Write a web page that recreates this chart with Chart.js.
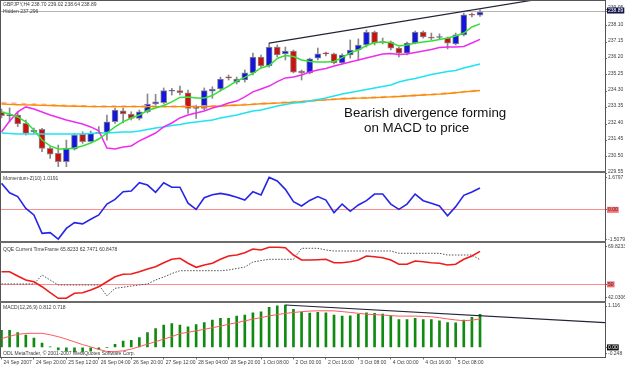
<!DOCTYPE html>
<html>
<head>
<meta charset="utf-8">
<script src="https://cdn.jsdelivr.net/npm/chart.js@4.4.1/dist/chart.umd.min.js"></script>
<style>
html, body { margin: 0; padding: 0; background: #fff; }
#wrap { position: relative; width: 625px; height: 367px; overflow: hidden; background: #fff; font-family: "Liberation Sans", Arial, sans-serif; }
canvas { position: absolute; left: 0; }
.frame { position: absolute; left: 0; top: 0; width: 604px; height: 356px; border: 1px solid #555; }
.sep { position: absolute; left: 0; width: 606px; height: 2px; background: #6b6b6b; }
.ttl { position: absolute; left: 3px; font-size: 5px; line-height: 6px; color: #3a3a3a; white-space: nowrap; }
.note { position: absolute; font-size: 13.33px; line-height: 15px; color: #111; white-space: nowrap; }
</style>
</head>
<body>
<div id="wrap">
  <canvas id="cMain" width="625" height="175" style="top:0"></canvas>
  <canvas id="cMom" width="625" height="72" style="top:172px"></canvas>
  <canvas id="cQqe" width="625" height="61" style="top:242px"></canvas>
  <canvas id="cMacd" width="625" height="66" style="top:301px"></canvas>

  <div class="frame"></div>
  <div class="sep" style="top:171px"></div>
  <div class="sep" style="top:241px"></div>
  <div class="sep" style="top:301px"></div>

  <div class="ttl" style="top:1px">GBPJPY,H4 238.70 239.02 238.64 238.89</div>
  <div class="ttl" style="top:8px">Hidden 237.296</div>
  <div class="ttl" style="top:175px">Momentum-Z(10) 1.0191</div>
  <div class="ttl" style="top:246px">QQE Current TimeFrame 65.8233 62.7471 60.8478</div>
  <div class="ttl" style="top:304px">MACD(12,26,9) 0.812 0.718</div>
  <div class="ttl" style="top:350px">ODL MetaTrader, © 2001-2007 MetaQuotes Software Corp.</div>

  <div class="note" style="left:344px; top:104.5px">Bearish divergence forming</div>
  <div class="note" style="left:364px; top:119.5px">on MACD to price</div>
</div>

<script>
// ---- time axis (H4 bars, label every 4 bars) ----
const labelBars = [0, 4, 8, 12, 16, 20, 24, 28, 32, 36, 40, 44, 48, 52, 56];
const timeLabels = ["24 Sep 2007", "24 Sep 20:00", "25 Sep 12:00", "26 Sep 04:00", "26 Sep 20:00",
  "27 Sep 12:00", "28 Sep 04:00", "28 Sep 20:00", "1 Oct 08:00", "2 Oct 00:00",
  "2 Oct 16:00", "3 Oct 08:00", "4 Oct 00:00", "4 Oct 16:00", "5 Oct 08:00"];

// ---- GBPJPY H4 candles ----
const openP = [233.11, 232.88, 232.92, 232.44, 231.94, 232.09, 230.99, 230.70, 230.22, 230.94,
  231.82, 231.38, 231.94, 231.92, 232.53, 233.17, 232.98, 232.73, 233.11, 233.56,
  233.64, 234.30, 234.33, 234.21, 233.31, 233.31, 234.31, 234.43, 235.10, 234.83,
  234.95, 235.36, 236.28, 235.76, 236.86, 236.46, 236.63, 235.47, 235.36, 236.22,
  236.51, 236.46, 235.94, 236.40, 236.69, 236.98, 237.73, 237.17, 237.15, 236.80,
  236.51, 237.09, 237.73, 237.44, 237.41, 237.38, 237.04, 237.56, 238.72, 238.70];
const highP = [233.27, 233.33, 233.11, 232.63, 232.17, 232.15, 231.09, 231.18, 231.47, 231.86,
  231.95, 231.99, 232.25, 232.92, 233.33, 233.33, 233.11, 233.21, 234.14, 234.12,
  234.49, 234.47, 234.60, 234.37, 233.50, 234.49, 234.56, 235.12, 235.24, 235.12,
  235.53, 236.51, 236.40, 237.09, 236.98, 236.86, 236.69, 235.53, 236.22, 236.80,
  236.57, 236.51, 236.46, 237.27, 237.33, 237.85, 237.79, 237.38, 237.21, 236.86,
  237.15, 237.79, 237.79, 237.67, 237.62, 237.44, 237.67, 238.83, 238.83, 239.02];
const lowP = [232.75, 232.52, 232.25, 231.76, 231.86, 230.80, 230.41, 229.93, 229.93, 230.89,
  231.28, 231.36, 231.86, 231.47, 232.44, 232.46, 232.63, 232.63, 233.04, 233.37,
  233.56, 234.08, 234.08, 233.02, 232.73, 233.21, 233.89, 234.31, 234.95, 234.72,
  234.83, 235.24, 235.65, 235.70, 236.28, 236.11, 235.36, 234.95, 235.30, 236.11,
  236.34, 235.88, 235.88, 236.22, 236.11, 236.86, 236.98, 237.04, 236.69, 236.28,
  236.40, 237.04, 237.38, 237.27, 237.33, 236.75, 236.98, 237.50, 238.60, 238.64];
const closeP = [232.88, 232.94, 232.40, 231.86, 232.05, 230.99, 230.66, 230.22, 230.99, 231.76,
  231.38, 231.86, 231.88, 232.53, 233.21, 232.98, 232.73, 233.11, 233.56, 233.69,
  234.33, 234.33, 234.21, 233.31, 233.35, 234.33, 234.43, 235.01, 235.07, 235.01,
  235.36, 236.28, 235.76, 236.86, 236.40, 236.63, 235.41, 235.36, 236.17, 236.46,
  236.46, 235.94, 236.40, 236.69, 236.98, 237.73, 237.09, 237.12, 236.80, 236.51,
  237.09, 237.73, 237.44, 237.38, 237.44, 237.09, 237.56, 238.72, 238.70, 238.89];

// ---- moving averages on price ----
const maGreen = [233.10, 232.98, 232.81, 232.52, 232.05, 231.47, 231.13, 230.95, 230.95, 231.01,
  231.13, 231.30, 231.53, 231.88, 232.23, 232.52, 232.75, 232.92, 233.18, 233.33,
  233.47, 233.68, 233.94, 233.97, 233.91, 233.91, 234.05, 234.34, 234.60, 234.89,
  235.10, 235.33, 235.65, 235.79, 236.20, 236.37, 236.31, 236.11, 236.02, 235.99,
  235.99, 236.02, 236.25, 236.52, 236.69, 236.95, 237.12, 237.15, 237.12, 236.92,
  236.98, 237.09, 237.15, 237.21, 237.30, 237.38, 237.50, 237.67, 238.02, 238.20];
const maMagenta = [231.94, 232.57, 233.10, 233.39, 233.27, 233.10, 232.92, 232.78, 232.63, 232.52,
  232.40, 232.23, 232.00, 231.01, 230.95, 231.07, 231.13, 231.42, 231.65, 231.88,
  232.23, 232.46, 232.75, 232.92, 233.04, 233.15, 233.33, 233.44, 233.62, 233.73,
  233.97, 234.26, 234.43, 234.60, 234.86, 235.07, 235.12, 235.24, 235.41, 235.53,
  235.62, 235.76, 235.88, 235.99, 236.11, 236.23, 236.34, 236.46, 236.49, 236.43,
  236.46, 236.54, 236.63, 236.72, 236.83, 236.86, 236.86, 236.89, 237.09, 237.30];
const maCyan = [231.88, 231.85, 231.82, 231.82, 231.82, 231.82, 231.82, 231.82, 231.82, 231.82,
  231.82, 231.85, 231.88, 231.88, 231.91, 231.94, 231.94, 232.00, 232.08, 232.17,
  232.23, 232.31, 232.37, 232.46, 232.52, 232.58, 232.63, 232.75, 232.84, 232.92,
  233.04, 233.15, 233.21, 233.33, 233.44, 233.53, 233.62, 233.65, 233.73, 233.82,
  233.91, 234.02, 234.14, 234.23, 234.31, 234.40, 234.49, 234.57, 234.66, 234.83,
  234.95, 235.04, 235.15, 235.27, 235.36, 235.44, 235.50, 235.65, 235.76, 235.88];
const maOrange = [233.56, 233.54, 233.52, 233.51, 233.50, 233.48, 233.47, 233.46, 233.44, 233.43,
  233.43, 233.41, 233.41, 233.41, 233.41, 233.41, 233.41, 233.41, 233.41, 233.41,
  233.41, 233.41, 233.41, 233.41, 233.41, 233.41, 233.43, 233.44, 233.47, 233.49,
  233.51, 233.54, 233.57, 233.59, 233.61, 233.64, 233.66, 233.69, 233.73, 233.77,
  233.80, 233.83, 233.86, 233.88, 233.90, 233.91, 233.93, 233.95, 233.97, 233.99,
  234.02, 234.05, 234.08, 234.10, 234.13, 234.17, 234.21, 234.26, 234.30, 234.34];
const maSalmon = [233.62, 233.60, 233.58, 233.56, 233.54, 233.52, 233.50, 233.48, 233.46, 233.45,
  233.44, 233.43, 233.42, 233.42, 233.42, 233.42, 233.42, 233.42, 233.42, 233.42,
  233.42, 233.42, 233.42, 233.42, 233.42, 233.42, 233.44, 233.45, 233.48, 233.50,
  233.52, 233.55, 233.58, 233.60, 233.62, 233.65, 233.67, 233.70, 233.74, 233.78,
  233.81, 233.84, 233.87, 233.89, 233.91, 233.92, 233.94, 233.96, 233.98, 234.00,
  234.03, 234.06, 234.09, 234.11, 234.14, 234.18, 234.22, 234.27, 234.31, 234.35];

// price trend line (bar, price) and axis ticks
const priceTrendBars = [33, 74.41];
const priceTrendVals = [237.09, 240.26];
const priceTicks = [229.55, 230.50, 231.45, 232.40, 233.35, 234.30, 235.25, 236.20, 237.15, 238.10, 239.05];
const bidPrice = 238.89;

// ---- Momentum-Z(10) ----
const momentum = [1.24, 0.80, 0.62, 0.07, -0.24, -1.10, -1.07, -1.37, -0.87, -0.60,
  -0.66, -0.44, -0.24, 0.27, 0.49, 0.85, 0.88, 1.27, 1.16, 0.82,
  1.27, 1.06, 1.06, 0.31, 0.02, 0.57, 0.71, 0.77, 0.70, 0.59,
  0.46, 0.85, 0.70, 1.52, 1.35, 0.96, 0.38, 0.18, 0.44, 0.62,
  0.46, -0.13, 0.27, -0.07, 0.23, 0.43, 0.74, 0.74, 0.27, 0.02,
  0.27, 0.74, 0.43, 0.31, 0.18, -0.28, 0.15, 0.68, 0.84, 1.02];
const momTickVals = [1.525, 0, -1.381];
const momTickText = ["1.6797", "0.00", "-1.5079"];

// ---- QQE ----
const qqeFast = [56.07, 56.07, 54.01, 52.09, 51.28, 48.88, 46.01, 43.33, 43.33, 45.72,
  46.01, 47.30, 48.88, 51.28, 53.67, 54.82, 54.97, 56.07, 57.37, 58.47,
  60.38, 62.01, 62.49, 60.10, 58.18, 59.28, 60.10, 62.01, 63.59, 64.07,
  65.17, 66.95, 66.47, 67.76, 67.76, 67.57, 64.07, 61.67, 61.67, 61.82,
  62.01, 60.38, 60.38, 60.86, 61.67, 63.59, 63.26, 62.78, 61.67, 59.62,
  59.62, 61.20, 60.86, 60.38, 60.10, 59.28, 59.62, 62.01, 63.59, 65.82];
const qqeSlow = [50.2, 50.2, 50.2, 50.2, 50.2, 54.49, 52.1, 49.7, 49.7, 49.7,
  49.7, 49.7, 49.7, 44.43, 48.11, 48.6, 49.2, 49.7, 50.2, 52.09,
  53.53, 55.2, 56.55, 56.55, 56.55, 56.55, 56.55, 56.55, 56.88, 57.6,
  58.3, 60.72, 61.4, 62.01, 62.01, 62.01, 62.01, 67.28, 67.28, 67.28,
  66.47, 65.99, 65.99, 65.99, 65.99, 65.99, 65.99, 65.99, 65.99, 64.89,
  64.89, 64.89, 64.89, 64.89, 64.89, 64.07, 64.07, 64.07, 64.07, 61.8];
const qqeTickVals = [68.05, 50, 43.80];
const qqeTickText = ["69.8233", "50", "42.0306"];

// ---- MACD(12,26,9) ----
const macdHist = [0.42, 0.42, 0.365, 0.30, 0.23, 0.107, 0.01, -0.06, -0.09, -0.11,
  -0.11, -0.09, -0.05, 0.00, 0.074, 0.156, 0.174, 0.24, 0.365, 0.464,
  0.546, 0.588, 0.546, 0.503, 0.563, 0.613, 0.67, 0.712, 0.712, 0.769,
  0.794, 0.851, 0.876, 0.985, 1.024, 1.042, 0.935, 0.868, 0.843, 0.861,
  0.851, 0.794, 0.769, 0.776, 0.811, 0.851, 0.836, 0.818, 0.776, 0.687,
  0.687, 0.712, 0.687, 0.687, 0.652, 0.613, 0.603, 0.67, 0.737, 0.812];
const macdSignal = [0.216, 0.273, 0.322, 0.342, 0.347, 0.347, 0.31, 0.263, 0.203, 0.136,
  0.069, 0.012, -0.05, -0.10, -0.104, -0.084, -0.042, 0.02, 0.08, 0.141,
  0.203, 0.265, 0.34, 0.372, 0.407, 0.444, 0.484, 0.523, 0.568, 0.608,
  0.652, 0.694, 0.732, 0.774, 0.806, 0.836, 0.858, 0.878, 0.893, 0.90,
  0.90, 0.898, 0.88, 0.86, 0.838, 0.818, 0.806, 0.794, 0.781, 0.769,
  0.769, 0.769, 0.762, 0.754, 0.729, 0.70, 0.675, 0.657, 0.67, 0.70];
const macdTrendBars = [35, 74.41];
const macdTrendVals = [1.042, 0.607];
const macdTickVals = [1.017, 0, -0.141];
const macdTickText = ["1.116", "0.00", "-0.248"];

// ============================================================
const X_MIN = -0.06, X_MAX = 74.41;
const FONT = { family: '"Liberation Sans", Arial, sans-serif', size: 5 };
const AXIS_TEXT = "#404040";
const CLEAR = "rgba(0,0,0,0)";

const pts = arr => arr.map((v, i) => ({ x: i, y: v }));
const pair = (xs, ys) => xs.map((x, i) => ({ x, y: ys[i] }));

function lineSet(data, color, width, order, extra) {
    return Object.assign({
        type: "line", data, borderColor: color, borderWidth: width,
        pointRadius: 0, tension: 0, fill: false, order
    }, extra || {});
}

// right-hand price axis in MT4 style
function rightAxis(min, max, tickVals, tickText, style) {
    return {
        position: "right", min, max,
        afterBuildTicks: s => { s.ticks = tickVals.map(v => ({ value: v })); },
        afterFit: s => { s.width = 20; s.paddingTop = 0; s.paddingBottom = 0; },
        border: { display: false },
        grid: {
            drawOnChartArea: true, lineWidth: 1, tickLength: 2, tickColor: "#777",
            color: ctx => (ctx.tick && style.levels[ctx.tick.value]) || CLEAR
        },
        ticks: {
            autoSkip: false, padding: 1, font: FONT, labelOffset: style.labelOffset || 0,
            callback: (v, i) => tickText[i],
            color: ctx => (ctx.tick && style.boxes[ctx.tick.value]) ? style.boxes[ctx.tick.value][1] : AXIS_TEXT,
            showLabelBackdrop: ctx => !!(ctx.tick && style.boxes[ctx.tick.value]),
            backdropColor: ctx => (ctx.tick && style.boxes[ctx.tick.value]) ? style.boxes[ctx.tick.value][0] : CLEAR,
            backdropPadding: { left: 1, right: 1, top: 0, bottom: 0 }
        }
    };
}

function hiddenX() {
    return { type: "linear", min: X_MIN, max: X_MAX, offset: false, display: false, grid: { offset: false } };
}

function baseOptions(padding, scales) {
    return {
        responsive: false, animation: false, devicePixelRatio: 1,
        events: [],
        layout: { padding },
        plugins: { legend: { display: false }, tooltip: { enabled: false } },
        scales
    };
}

// ---------------- MAIN PRICE PANEL ----------------
const idx = openP.map((_, i) => i);
const bull = i => closeP[i] >= openP[i];
const mainTickVals = priceTicks.concat([bidPrice]);
const mainTickText = mainTickVals.map(v => v.toFixed(2));

new Chart(document.getElementById("cMain"), {
    type: "bar",
    data: {
        datasets: [
            {
                type: "bar", data: idx.map(i => ({ x: i, y: [lowP[i], highP[i]] })),
                backgroundColor: "#888888", barThickness: 1, grouped: false, order: 9
            },
            {
                type: "bar", data: idx.map(i => ({ x: i, y: [openP[i], closeP[i]] })),
                backgroundColor: idx.map(i => bull(i) ? "#1515e0" : "#cc1010"),
                borderColor: "#8a8a8a", borderWidth: 1, borderSkipped: false,
                barThickness: 6, minBarLength: 1, grouped: false, order: 8
            },
            lineSet(pts(maSalmon), "#f6b9aa", 2.2, 7, { borderDash: [5, 5] }),
            lineSet(pts(maOrange), "#ff8a00", 1.4, 6),
            lineSet(pts(maCyan), "#1ee3f2", 1.5, 5),
            lineSet(pts(maMagenta), "#ee2cee", 1.5, 4),
            lineSet(pts(maGreen), "#36e036", 1.5, 3),
            lineSet(pair(priceTrendBars, priceTrendVals), "#22223a", 1.2, 1,
                { clip: { left: 0, top: 3, right: 0, bottom: 0 } })
        ]
    },
    options: baseOptions({ left: 1, right: 0, top: 3, bottom: 3 }, {
        x: hiddenX(),
        y: rightAxis(229.620, 239.411, mainTickVals, mainTickText, {
            labelOffset: -1.5,
            levels: { [bidPrice]: "#b4b4b4" },
            boxes: { [bidPrice]: ["#12124a", "#ffffff"] }
        })
    })
});

// ---------------- MOMENTUM PANEL ----------------
new Chart(document.getElementById("cMom"), {
    type: "line",
    data: { datasets: [lineSet(pts(momentum), "#2626e6", 1.6, 1)] },
    options: baseOptions({ left: 1, right: 0, top: 2, bottom: 2 }, {
        x: hiddenX(),
        y: rightAxis(-1.5079, 1.6797, momTickVals, momTickText, {
            levels: { 0: "#ff8c8c" },
            boxes: { 0: ["#ff6f6f", "#333333"] }
        })
    })
});

// ---------------- QQE PANEL ----------------
new Chart(document.getElementById("cQqe"), {
    type: "line",
    data: {
        datasets: [
            lineSet(pts(qqeSlow), "#505050", 1, 2, { borderDash: [1.5, 1.5] }),
            lineSet(pts(qqeFast), "#ee1c1c", 1.6, 1)
        ]
    },
    options: baseOptions({ left: 1, right: 0, top: 1, bottom: 2 }, {
        x: hiddenX(),
        y: rightAxis(42.0306, 69.8233, qqeTickVals, qqeTickText, {
            levels: { 50: "#ff8c8c" },
            boxes: { 50: ["#ff6f6f", "#333333"] }
        })
    })
});

// ---------------- MACD PANEL ----------------
new Chart(document.getElementById("cMacd"), {
    type: "bar",
    data: {
        datasets: [
            {
                type: "bar", data: pts(macdHist), backgroundColor: "#118a11",
                barThickness: 2, grouped: false, order: 3
            },
            lineSet(pts(macdSignal), "#ff5a5a", 1, 2),
            lineSet(pair(macdTrendBars, macdTrendVals), "#22223a", 1.2, 1)
        ]
    },
    options: baseOptions({ left: 1, right: 0, top: 1, bottom: 0 }, {
        x: {
            type: "linear", min: X_MIN, max: X_MAX, offset: false, position: "bottom",
            afterBuildTicks: s => { s.ticks = labelBars.map(v => ({ value: v })); },
            afterFit: s => { s.height = 9.5; s.paddingLeft = 0; s.paddingRight = 0; },
            border: { display: false },
            grid: { offset: false, drawOnChartArea: false, tickLength: 2, tickColor: "#777" },
            ticks: {
                autoSkip: false, maxRotation: 0, minRotation: 0, align: "start",
                labelOffset: 2, padding: 0, font: FONT, color: AXIS_TEXT,
                callback: (v, i) => timeLabels[i]
            }
        },
        y: rightAxis(-0.248, 1.116, macdTickVals, macdTickText, {
            levels: {},
            boxes: { 0: ["#111111", "#ffffff"] }
        })
    })
});
</script>
</body>
</html>
